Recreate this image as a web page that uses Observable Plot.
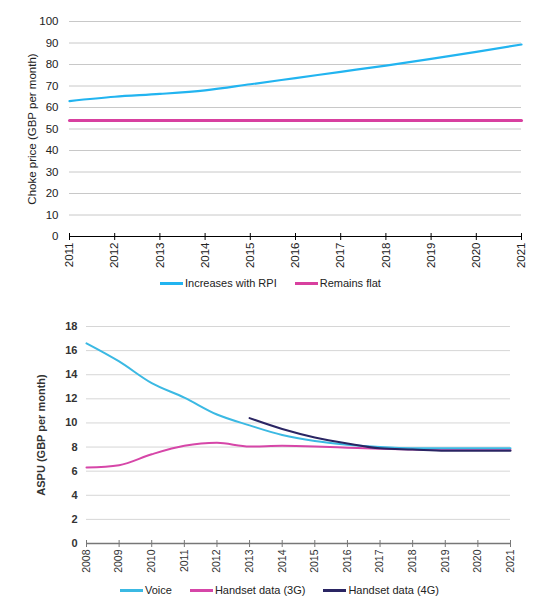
<!DOCTYPE html>
<html><head><meta charset="utf-8">
<script src="https://cdn.jsdelivr.net/npm/d3@7"></script>
<script src="https://cdn.jsdelivr.net/npm/@observablehq/plot@0.6"></script>
<style>
body{margin:0;background:#fff;font-family:"Liberation Sans",Arial,sans-serif;}
#wrap{position:relative;width:539px;height:608px;overflow:hidden;}
.chart{position:absolute;left:0;}
.legend{position:absolute;display:flex;align-items:center;font-size:11px;color:#222;white-space:nowrap;}
.legend .sw{display:inline-block;width:23px;height:3px;margin-right:2px;}
.legend .it{display:flex;align-items:center;}
</style></head>
<body><div id="wrap"></div>
<script>
// ---- Top chart data ----
const topYears = [2011,2012,2013,2014,2015,2016,2017,2018,2019,2020,2021];
const rpiValues = [63,65,66.3,68,70.8,73.7,76.6,79.5,82.6,85.9,89.3];
const flatValues = [54,54,54,54,54,54,54,54,54,54,54];
const topSeries = ["Increases with RPI","Remains flat"];
const topColors = ["#22b4f0","#d8409f"];
const topYTicks = [0,10,20,30,40,50,60,70,80,90,100];

// ---- Bottom chart data ----
const botYears = [2008,2009,2010,2011,2012,2013,2014,2015,2016,2017,2018,2019,2020,2021];
const voiceValues = [16.6,15.1,13.3,12.1,10.7,9.8,9.0,8.5,8.2,8.0,7.9,7.9,7.9,7.9];
const g3Values = [6.3,6.5,7.4,8.1,8.35,8.05,8.1,8.05,7.95,7.85,7.8,7.75,7.75,7.75];
const g4Years = [2013,2014,2015,2016,2017,2018,2019,2020,2021];
const g4Values = [10.4,9.5,8.8,8.3,7.9,7.8,7.7,7.7,7.7];
const botSeries = ["Voice","Handset data (3G)","Handset data (4G)"];
const botColors = ["#3bb9e3","#d646a8","#2a2563"];
const botYTicks = [0,2,4,6,8,10,12,14,16,18];

const wrap = document.getElementById("wrap");
const font = '"Liberation Sans",Arial,sans-serif';

// Top chart
const topData = [
  ...topYears.map((y,i)=>({year:y, value:rpiValues[i], s:topSeries[0]})),
  ...topYears.map((y,i)=>({year:y, value:flatValues[i], s:topSeries[1]}))
];
const topChart = Plot.plot({
  width:539, height:270,
  marginTop:21, marginBottom:34, marginLeft:69, marginRight:18,
  style:{fontFamily:font, fontSize:"11.5px", color:"#222", background:"transparent"},
  x:{domain:[2011,2021]},
  y:{domain:[0,100]},
  color:{domain:topSeries, range:topColors},
  marks:[
    Plot.gridY(topYTicks,{stroke:"#c8c8c8", strokeOpacity:1, strokeWidth:1}),
    Plot.axisY(topYTicks,{tickSize:0, tickPadding:11, fontSize:11.5, label:"Choke price (GBP per month)", labelAnchor:"center", labelArrow:"none", labelOffset:42}),
    Plot.axisX(topYears,{tickSize:7, dy:-3, tickFormat:()=>"", label:null, stroke:"#000"}),
    Plot.axisX(topYears,{tickSize:0, tickRotate:-90, tickPadding:6, tickFormat:d=>String(d), label:null, fontSize:11.5}),
    Plot.ruleY([0],{stroke:"#000", strokeWidth:1.2}),
    Plot.line(topData.filter(d=>d.s===topSeries[1]),{x:"year", y:"value", stroke:"s", strokeWidth:3}),
    Plot.line(topData.filter(d=>d.s===topSeries[0]),{x:"year", y:"value", stroke:"s", strokeWidth:2.2, curve:"monotone-x"})
  ]
});
topChart.classList.add("chart"); topChart.style.top="0px";
wrap.appendChild(topChart);

// Bottom chart
const botData = [
  ...botYears.map((y,i)=>({year:y, value:voiceValues[i], s:botSeries[0]})),
  ...botYears.map((y,i)=>({year:y, value:g3Values[i], s:botSeries[1]})),
  ...g4Years.map((y,i)=>({year:y, value:g4Values[i], s:botSeries[2]}))
];
const botChart = Plot.plot({
  width:539, height:280,
  marginTop:26, marginBottom:37, marginLeft:86, marginRight:29,
  style:{fontFamily:font, fontSize:"11px", color:"#333", background:"transparent"},
  x:{domain:[2008,2021]},
  y:{domain:[0,18]},
  color:{domain:botSeries, range:botColors},
  marks:[
    Plot.gridY(botYTicks.filter(d=>d>0),{stroke:"#d6d6d6", strokeOpacity:1, strokeWidth:1}),
    Plot.axisY(botYTicks,{tickSize:0, tickPadding:9, fontSize:11, label:"ASPU (GBP per month)", labelAnchor:"center", labelArrow:"none", labelOffset:49, fontWeight:"bold"}),
    Plot.axisX(botYears,{tickSize:7, dy:-3, tickFormat:()=>"", label:null, stroke:"#777"}),
    Plot.axisX(botYears,{tickSize:0, tickRotate:-90, tickPadding:6, tickFormat:d=>String(d), label:null, fontSize:10.5}),
    Plot.ruleY([0],{stroke:"#777", strokeWidth:1.5}),
    Plot.line(botData.filter(d=>d.s===botSeries[1]),{x:"year", y:"value", stroke:"s", strokeWidth:2, curve:"monotone-x"}),
    Plot.line(botData.filter(d=>d.s===botSeries[0]),{x:"year", y:"value", stroke:"s", strokeWidth:2, curve:"monotone-x"}),
    Plot.line(botData.filter(d=>d.s===botSeries[2]),{x:"year", y:"value", stroke:"s", strokeWidth:2, curve:"monotone-x"})
  ]
});
botChart.classList.add("chart"); botChart.style.top="300px";
wrap.appendChild(botChart);

// Legends
function legend(series, colors, left, topPx, gaps){
  const d = document.createElement("div");
  d.className="legend"; d.style.left=left+"px"; d.style.top=topPx+"px";
  series.forEach((s,i)=>{
    const it=document.createElement("span"); it.className="it";
    if(i>0) it.style.marginLeft=gaps+"px";
    it.innerHTML=`<span class="sw" style="background:${colors[i]}"></span>${s}`;
    d.appendChild(it);
  });
  wrap.appendChild(d);
}
legend(topSeries, topColors, 160, 277, 18);
legend(botSeries, botColors, 120, 584, 18);
</script></body></html>
